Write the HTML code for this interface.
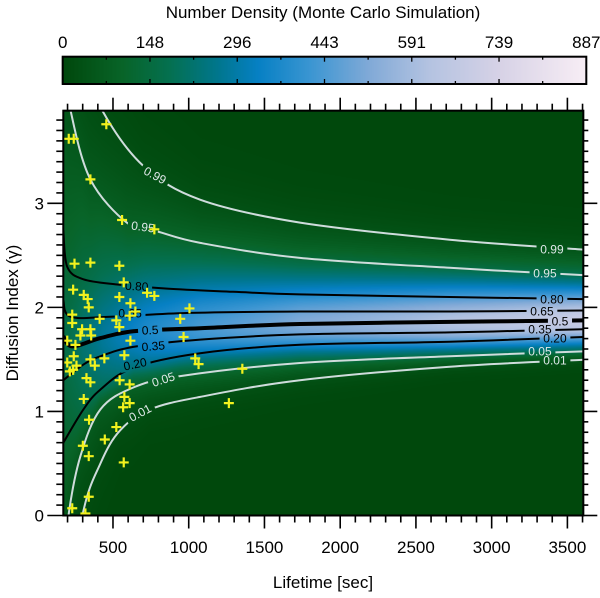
<!DOCTYPE html>
<html><head><meta charset="utf-8">
<style>
html,body{margin:0;padding:0;background:#fff;width:600px;height:598px;overflow:hidden;}
#wrap{position:relative;width:600px;height:598px;overflow:hidden;font-family:"Liberation Sans",sans-serif;}
canvas,svg{position:absolute;left:0;top:0;display:block;}
</style></head>
<body>
<div id="wrap">
<canvas id="heat" width="600" height="598"></canvas>
<svg id="svg" width="600" height="598" xmlns="http://www.w3.org/2000/svg"></svg>
</div>
<script>
// ---- data ----
const levels = [0.01, 0.05, 0.20, 0.35, 0.5, 0.65, 0.80, 0.95, 0.99];
const levelNames = ["0.01","0.05","0.20","0.35","0.5","0.65","0.80","0.95","0.99"];
const c01t = [172, 298, 417, 548, 746, 1076, 1735, 2723, 3605];
const c01g = [-1.2, 0, 0.50, 0.82, 1.02, 1.14, 1.30, 1.43, 1.497];
const c05t = [172, 206, 285, 417, 634, 944, 1735, 2723, 3605];
const c05g = [-0.6, 0, 0.57, 1.02, 1.23, 1.34, 1.465, 1.53, 1.577];
const c20t = [172, 305, 417, 634, 1076, 1735, 2723, 3605];
const c20g = [0.70, 1.02, 1.21, 1.42, 1.56, 1.64, 1.67, 1.715];
const c35t = [172, 305, 417, 634, 1076, 1735, 2723, 3605];
const c35g = [1.30, 1.45, 1.53, 1.62, 1.69, 1.74, 1.76, 1.79];
const c50t = [172, 232, 417, 634, 1076, 1735, 2723, 3605];
const c50g = [1.72, 1.625, 1.705, 1.77, 1.80, 1.84, 1.86, 1.875];
const c65t = [172, 219, 483, 964, 1735, 2723, 3605];
const c65g = [2.07, 1.91, 1.91, 1.945, 1.96, 1.96, 1.97];
const c80t = [172, 198, 305, 529, 858, 1293, 1735, 2723, 3605];
const c80g = [2.74, 2.39, 2.27, 2.22, 2.18, 2.15, 2.125, 2.10, 2.08];
const c95t = [172, 220, 351, 595, 792, 1076, 1735, 2723, 3605];
const c95g = [4.4, 3.89, 3.23, 2.81, 2.73, 2.62, 2.475, 2.38, 2.31];
const c99t = [172, 300, 430, 700, 1075, 1735, 2723, 3605];
const c99g = [5.5, 4.4, 3.89, 3.36, 3.035, 2.815, 2.65, 2.555];
const contourT = [c01t, c05t, c20t, c35t, c50t, c65t, c80t, c95t, c99t];
const contourG = [c01g, c05g, c20g, c35g, c50g, c65g, c80g, c95g, c99g];
// label anchors (data units) and angles
const labelLeftT = [679, 832, 646, 766, 745, 613, 657, 698, 778];
const labelLeftG = [0.988, 1.309, 1.456, 1.629, 1.783, 1.943, 2.205, 2.775, 3.27];
const labelLeftA = [-28, -18, -12, -5, -3, 0, 3, 8, 28];
const labelRightT = [3418, 3319, 3418, 3319, 3451, 3332, 3398, 3352, 3398];
const labelRightG = [1.494, 1.581, 1.706, 1.792, 1.869, 1.965, 2.080, 2.330, 2.561];
// observed events
const eventT = [456,208,241,351,560,773,246,351,542,571,237,307,333,340,542,615,725,773,1005,944,231,412,522,542,610,648,231,296,351,285,356,198,252,615,966,198,241,237,215,259,351,443,380,575,1043,1065,1354,325,351,544,610,307,575,610,567,342,522,1265,301,446,340,571,340,231,318];
const eventG = [3.76,3.62,3.62,3.23,2.84,2.75,2.42,2.43,2.40,2.24,2.17,2.12,2.08,2.00,2.10,2.04,2.14,2.11,1.99,1.89,1.93,1.89,1.875,1.81,1.92,1.96,1.85,1.79,1.79,1.73,1.73,1.68,1.64,1.68,1.715,1.47,1.53,1.40,1.385,1.44,1.50,1.51,1.44,1.54,1.51,1.455,1.41,1.32,1.28,1.30,1.26,1.12,1.14,1.08,1.04,0.92,0.85,1.08,0.67,0.73,0.57,0.51,0.18,0.07,0.02];
const xTicks = [500,1000,1500,2000,2500,3000,3500];
const yTicks = [0,1,2,3];
const cbLabels = ["0","148","296","443","591","739","887"];
const cbMax = 887;

// ---- geometry ----
const PX0 = 63.3, PX1 = 583.3, PY0 = 110.7, PY1 = 515.5;
const T0 = 172, T1 = 3605, G0 = 0, G1 = 3.89;
const xs = t => PX0 + (t - T0) / (T1 - T0) * (PX1 - PX0);
const ys = g => PY1 - (g - G0) / (G1 - G0) * (PY1 - PY0);
const tinv = x => T0 + (x - PX0) / (PX1 - PX0) * (T1 - T0);
const ginv = y => G0 + (PY1 - y) / (PY1 - PY0) * (G1 - G0);
const zOf = [-2.326, -1.645, -0.842, -0.385, 0, 0.385, 0.842, 1.645, 2.326];

function interp(ta, ga, t) {
  if (t <= ta[0]) return ga[0];
  for (let i = 1; i < ta.length; i++) if (t <= ta[i]) {
    const f = (t - ta[i-1]) / (ta[i] - ta[i-1]); return ga[i-1] + f * (ga[i] - ga[i-1]);
  }
  return ga[ga.length - 1];
}
const cmapV = [0,100,180,260,330,420,520,620,740,887];
const cmapC = [[0,72,12],[8,100,40],[4,112,80],[0,118,140],[6,128,196],[60,150,210],[130,170,215],[180,195,225],[215,210,230],[248,238,245]];
function cmap(v) {
  v = Math.max(0, Math.min(cbMax, v));
  for (let i = 1; i < cmapV.length; i++) if (v <= cmapV[i]) {
    const f = (v - cmapV[i-1]) / (cmapV[i] - cmapV[i-1]);
    return cmapC[i-1].map((c, k) => Math.round(c + f * (cmapC[i][k] - c)));
  }
  return cmapC[cmapC.length-1];
}

// ---- heatmap + colorbar ----
const ctx = document.getElementById('heat').getContext('2d');
const x0 = Math.floor(PX0), x1 = Math.ceil(PX1), y0 = Math.floor(PY0), y1 = Math.ceil(PY1);
const img = ctx.createImageData(x1 - x0, y1 - y0);
for (let px = x0; px < x1; px++) {
  const t = tinv(px + 0.5);
  const gs = contourG.map((ga, i) => interp(contourT[i], ga, t));
  const width = gs[8] - gs[0];
  const peak = 690 / Math.pow(width / 1.06, 0.8);
  for (let py = y0; py < y1; py++) {
    const g = ginv(py + 0.5);
    let z;
    if (g <= gs[0]) z = zOf[0] - (gs[0] - g) * (zOf[1] - zOf[0]) / Math.max(0.05, gs[1] - gs[0]);
    else if (g >= gs[8]) z = zOf[8] + (g - gs[8]) * (zOf[8] - zOf[7]) / Math.max(0.05, gs[8] - gs[7]);
    else { for (let i = 1; i < 9; i++) if (g <= gs[i]) { z = zOf[i-1] + (g - gs[i-1]) / Math.max(1e-6, gs[i] - gs[i-1]) * (zOf[i] - zOf[i-1]); break; } }
    const c = cmap(peak * Math.exp(-z * z / 2));
    const k = ((py - y0) * (x1 - x0) + (px - x0)) * 4;
    img.data[k] = c[0]; img.data[k+1] = c[1]; img.data[k+2] = c[2]; img.data[k+3] = 255;
  }
}
ctx.putImageData(img, x0, y0);
const CBX0 = 62.7, CBX1 = 586.3, CBY0 = 56.7, CBY1 = 84;
for (let px = Math.floor(CBX0); px < CBX1; px++) {
  const c = cmap((px - CBX0) / (CBX1 - CBX0) * cbMax);
  ctx.fillStyle = `rgb(${c[0]},${c[1]},${c[2]})`;
  ctx.fillRect(px, CBY0, 1, CBY1 - CBY0);
}

// ---- svg ----
const NS = "http://www.w3.org/2000/svg";
const svg = document.getElementById('svg');
function mk(tag, attrs, parent) {
  const e = document.createElementNS(NS, tag);
  for (const k in attrs) e.setAttribute(k, attrs[k]);
  (parent || svg).appendChild(e); return e;
}
const defs = mk('defs', {});
const clip = mk('clipPath', {id: 'pclip'}, defs);
mk('rect', {x: PX0, y: PY0, width: PX1 - PX0, height: PY1 - PY0}, clip);
const mask = mk('mask', {id: 'lmask', maskUnits: 'userSpaceOnUse', x: 0, y: 0, width: 600, height: 598}, defs);
mk('rect', {x: 0, y: 0, width: 600, height: 598, fill: '#fff'}, mask);

function smoothPath(pts) {
  let d = `M${pts[0][0].toFixed(1)},${pts[0][1].toFixed(1)}`;
  for (let i = 0; i < pts.length - 1; i++) {
    const p0 = pts[Math.max(0, i-1)], p1 = pts[i], p2 = pts[i+1], p3 = pts[Math.min(pts.length-1, i+2)];
    const c1 = [p1[0] + (p2[0]-p0[0])/6, p1[1] + (p2[1]-p0[1])/6];
    const c2 = [p2[0] - (p3[0]-p1[0])/6, p2[1] - (p3[1]-p1[1])/6];
    d += ` C${c1[0].toFixed(1)},${c1[1].toFixed(1)} ${c2[0].toFixed(1)},${c2[1].toFixed(1)} ${p2[0].toFixed(1)},${p2[1].toFixed(1)}`;
  }
  return d;
}
const white = i => (i <= 1 || i >= 7);
const lineG = mk('g', {'clip-path': 'url(#pclip)'});
const lg2 = mk('g', {mask: 'url(#lmask)'}, lineG);
const labelG = mk('g', {'font-size': 12});
for (let i = 0; i < levels.length; i++) {
  const pts = contourT[i].map((t, j) => [xs(t), ys(contourG[i][j])]);
  const p = mk('path', {d: smoothPath(pts), fill: 'none', stroke: white(i) ? '#cfdcdc' : '#000', 'stroke-width': i === 4 ? 4 : 2}, lg2);
  
  
  const spots = [[labelLeftT[i], labelLeftG[i], labelLeftA[i]], [labelRightT[i], labelRightG[i], 0]];
  for (const [t, g, a] of spots) {
    const x = xs(t), y = ys(g);
    const w = levelNames[i].length * 6.7 + 4;
    mk('rect', {x: x - w/2, y: y - 6, width: w, height: 12, fill: '#000', transform: `rotate(${a} ${x} ${y})`}, mask);
    const tx = mk('text', {x: x, y: y + 4.3, 'text-anchor': 'middle', fill: white(i) ? '#dfe8e8' : '#000', transform: `rotate(${a} ${x} ${y})`}, labelG);
    tx.textContent = levelNames[i];
    
    
  }
}
// events
const evG = mk('g', {stroke: '#f2f21e', 'stroke-width': 2.2, 'clip-path': 'url(#pclip)'});


for (let i = 0; i < eventT.length; i++) {
  const x = xs(eventT[i]), y = ys(eventG[i]);
  const m = mk('path', {d: `M${x-5},${y}H${x+5}M${x},${y-5}V${y+5}`}, evG);
  
  
}
// axes frame
const ax = mk('g', {stroke: '#000', 'stroke-width': 2, fill: 'none'});


mk('rect', {x: PX0, y: PY0, width: PX1 - PX0, height: PY1 - PY0}, ax);
for (let t = 200; t <= 3600; t += 100) {
  const x = xs(t), major = t % 500 === 0, L = major ? 13 : 7;
  mk('line', {x1: x, y1: PY1, x2: x, y2: PY1 + L, 'stroke-width': 1.6}, ax);
  mk('line', {x1: x, y1: PY0, x2: x, y2: PY0 - L, 'stroke-width': 1.6}, ax);
}
for (let k = 0; k <= 38; k++) {
  const g = k / 10, y = ys(g), major = k % 10 === 0, L = major ? 16 : 7;
  mk('line', {x1: PX0, y1: y, x2: PX0 - L, y2: y, 'stroke-width': 1.6}, ax);
  mk('line', {x1: PX1, y1: y, x2: PX1 + L - 2, y2: y, 'stroke-width': 1.6}, ax);
}
const tl = mk('g', {'font-size': 17, fill: '#000'});
for (const t of xTicks) {
  const e = mk('text', {x: xs(t), y: 553, 'text-anchor': 'middle'}, tl); e.textContent = t;
   
}
for (const g of yTicks) {
  const e = mk('text', {x: 44, y: ys(g) + 6, 'text-anchor': 'end'}, tl); e.textContent = g;
   
}
let e = mk('text', {x: 323, y: 588, 'text-anchor': 'middle', 'font-size': 17}); e.textContent = 'Lifetime [sec]';
 
e = mk('text', {x: 0, y: 0, 'text-anchor': 'middle', 'font-size': 17, transform: 'translate(18 313) rotate(-90)'}); e.textContent = 'Diffusion Index (γ)';
 
// colorbar
const cb = mk('g', {stroke: '#000', fill: 'none'});
 
mk('rect', {x: CBX0, y: CBY0, width: CBX1 - CBX0, height: CBY1 - CBY0, 'stroke-width': 2}, cb);
for (let k = 0; k <= 12; k++) {
  const x = CBX0 + k / 12 * (CBX1 - CBX0), L = k % 2 === 0 ? 5 : 3;
  mk('line', {x1: x, y1: CBY0, x2: x, y2: CBY0 + L, 'stroke-width': 1.3}, cb);
  mk('line', {x1: x, y1: CBY1, x2: x, y2: CBY1 - L, 'stroke-width': 1.3}, cb);
}
for (let k = 0; k < cbLabels.length; k++) {
  const x = CBX0 + k / (cbLabels.length - 1) * (CBX1 - CBX0);
  const e2 = mk('text', {x: x, y: 48, 'text-anchor': 'middle', 'font-size': 17}); e2.textContent = cbLabels[k];
   
}
e = mk('text', {x: 323, y: 18, 'text-anchor': 'middle', 'font-size': 17}); e.textContent = 'Number Density (Monte Carlo Simulation)';
 
</script>
</body></html>
